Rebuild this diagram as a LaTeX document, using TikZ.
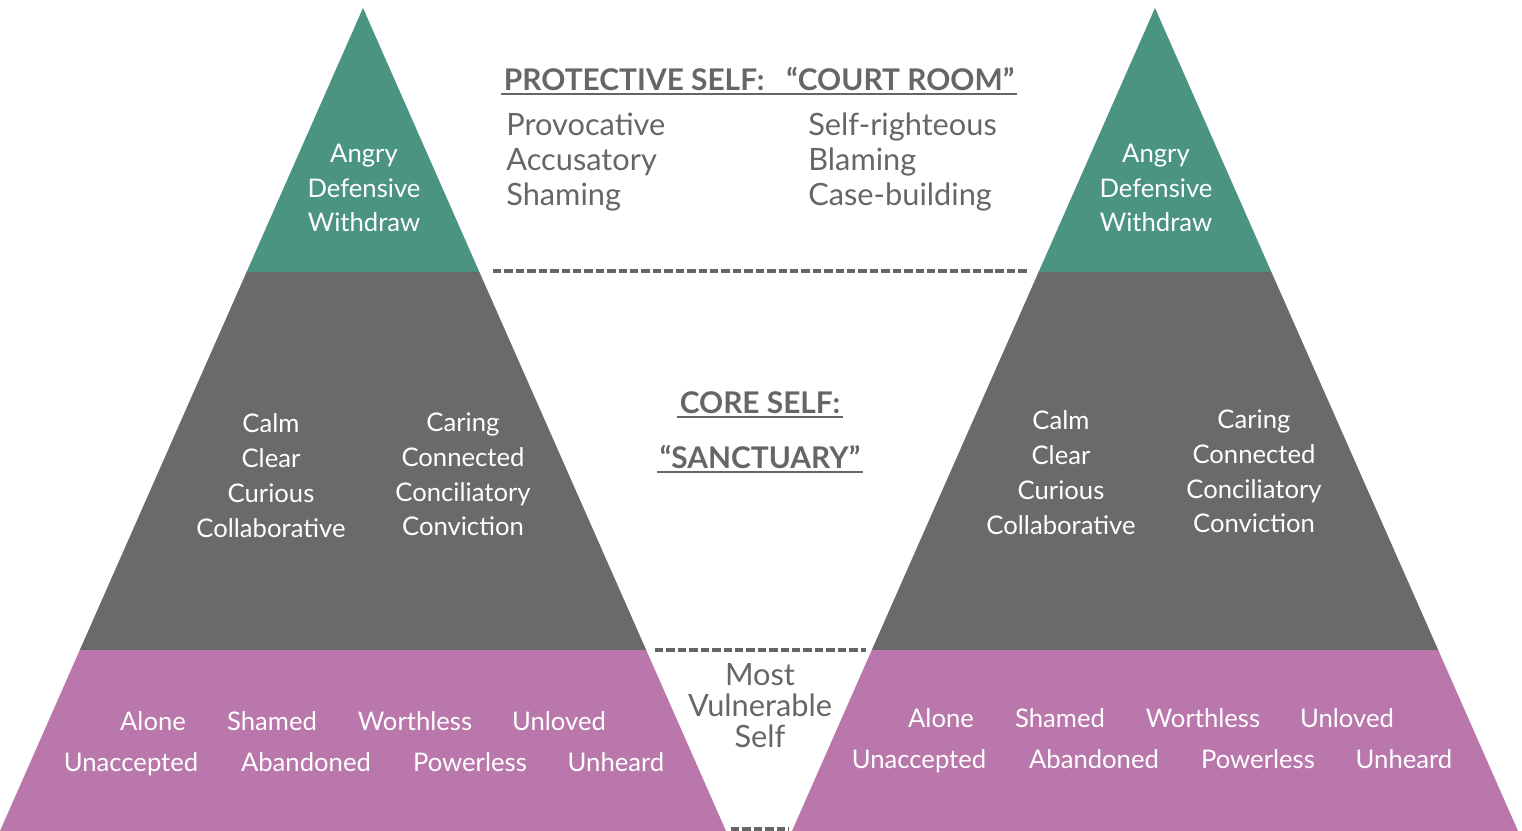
\documentclass[tikz,border=0pt]{standalone}
\usepackage{fontspec}
\setmainfont{Lato}
\usetikzlibrary{positioning}
\definecolor{tealband}{HTML}{4A9481}
\definecolor{greyband}{HTML}{6A6A6A}
\definecolor{pinkband}{HTML}{B977AB}
\definecolor{inkgrey}{HTML}{666666}

\begin{document}
\begin{tikzpicture}[x=0.02cm,y=-0.02cm,
    inwhite/.style={text=white, align=center, inner sep=0pt,
                    font=\fontsize{14.6}{19.8}\selectfont},
    word/.style={inwhite, text height=.75em, text depth=.25em},
    ingrey/.style={text=inkgrey, align=left, inner sep=0pt,
                   font=\fontsize{17.5}{19.8}\selectfont},
    heading/.style={text=inkgrey, inner sep=1.5pt,
                    font=\fontsize{17}{19}\selectfont\bfseries},
    cut/.style={inkgrey, line width=1.8pt, dash pattern=on 4.8pt off 1.7pt}]
  \useasboundingbox (0,0) rectangle (1522,831);

  % the two pyramids, three bands each
  \foreach \a/\dx/\dy/\s in {363/0/0/L, 1155/-4/-3/R} {
    \fill[tealband] (\a,8) -- ({\a+116.4},272) -- ({\a-116.4},272) -- cycle;
    \fill[greyband] ({\a-116.4},272) -- ({\a+116.4},272)
                 -- ({\a+283.2},650) -- ({\a-283.2},650) -- cycle;
    \fill[pinkband] ({\a-283.2},650) -- ({\a+283.2},650)
                 -- ({\a+363},831) -- ({\a-363},831) -- cycle;

    \node[inwhite] (guard\s) at (\a+1,188) {Angry\\Defensive\\Withdraw};
    \node[inwhite] (calm\s) at (\a-92+\dx/2,475.5+\dy)
      {Calm\\Clear\\Curious\\Collaborative};
    \node[inwhite] (care\s) at (\a+100+\dx/4,474.5+\dy)
      {Caring\\Connected\\Conciliatory\\Conviction};

    \foreach \w/\x in {Alone/-210, Shamed/-91, Worthless/52, Unloved/196}
      \node[word] (\w\s) at (\a+\x+\dx,726+\dy) {\w};
    \foreach \w/\x in {Unaccepted/-232, Abandoned/-57, Powerless/107, Unheard/253}
      \node[word] (\w\s) at (\a+\x+\dx,767+\dy) {\w};
  }

  % texts between the pyramids
  \node[heading, anchor=south west] (court) at (501,94)
    {PROTECTIVE SELF:\ \ \ “COURT ROOM”};
  \draw[inkgrey, line width=1pt] (court.south west) -- (court.south east);
  \node[ingrey, anchor=west] (prov) at (506,162)
    {Provocative\\Accusatory\\Shaming};
  \node[ingrey, anchor=west] (righ) at (808,162)
    {Self-righteous\\Blaming\\Case-building};

  \node[heading] (core) at (760,403) {CORE SELF:};
  \draw[inkgrey, line width=1pt] (core.south west) -- (core.south east);
  \node[heading] (sanct) at (760,457) {“SANCTUARY”};
  \draw[inkgrey, line width=1pt] (sanct.south west) -- (sanct.south east);

  \node[ingrey, align=center, font=\fontsize{17.5}{17.6}\selectfont]
    (vuln) at (760,706) {Most\\Vulnerable\\Self};

  % dashed cuts
  \coordinate (cutA) at (493,271);
  \coordinate (cutB) at (1028,271);
  \coordinate (cutC) at (655,650);
  \coordinate (cutD) at (866,650);
  \coordinate (cutE) at (731,829);
  \coordinate (cutF) at (789,829);
  \draw[cut] (cutA) -- (cutB);
  \draw[cut] (cutC) -- (cutD);
  \draw[cut] (cutE) -- (cutF);
\end{tikzpicture}
\end{document}
